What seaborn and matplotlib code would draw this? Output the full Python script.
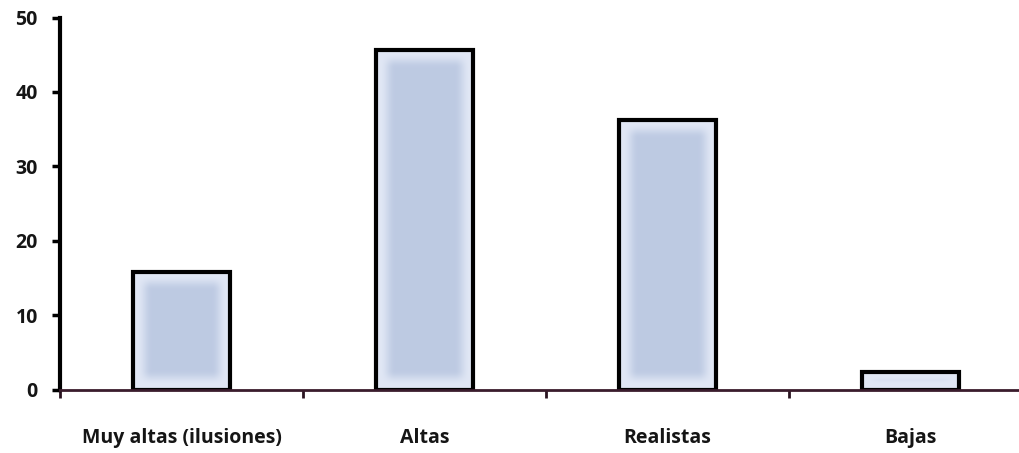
import numpy as np
import matplotlib
matplotlib.use("Agg")
import matplotlib.pyplot as plt
import seaborn as sns
from matplotlib.ticker import FixedLocator

categories = ["Muy altas (ilusiones)", "Altas", "Realistas", "Bajas"]
values = [15.8, 45.6, 36.2, 2.4]
y_ticks = [0, 10, 20, 30, 40, 50]

sns.set_theme(style="white")
plt.rcParams["font.family"] = ["Open Sans", "DejaVu Sans"]

W, H, DPI = 1019, 453, 100
fig = plt.figure(figsize=(W / DPI, H / DPI), dpi=DPI)
ax = fig.add_axes([60 / W, (H - 389.5) / H, 972 / W, 372 / H])

sns.barplot(x=categories, y=values, color="#c0cce4", width=0.4,
            edgecolor="black", linewidth=3, ax=ax, zorder=3)

ax.set_xlim(-0.5, 3.5)
ax.set_ylim(0, 50)
ax.set_yticks(y_ticks)
ax.set_xlabel("")
ax.set_ylabel("")

# soft gradient fill inside each bar: pale rim, deeper blue centre
rim = np.array([0.88, 0.905, 0.96])
core = np.array([0.745, 0.795, 0.89])
fig.canvas.draw()
for patch in ax.patches:
    x0, y0 = patch.get_x(), patch.get_y()
    bw, bh = patch.get_width(), patch.get_height()
    (px0, py0) = ax.transData.transform((x0, y0))
    (px1, py1) = ax.transData.transform((x0 + bw, y0 + bh))
    pw, ph = max(int(abs(px1 - px0)), 2), max(int(abs(py1 - py0)), 2)
    xs = np.arange(pw) + 0.5
    ys = np.arange(ph) + 0.5
    margin = 15.0
    dx = np.minimum(xs, pw - xs)
    dy = np.minimum(ys, ph - ys)
    fx = np.clip((dx - 4) / margin, 0, 1)
    fy = np.clip((dy - 4) / margin, 0, 1)
    fx = fx * fx * (3 - 2 * fx)
    fy = fy * fy * (3 - 2 * fy)
    f = np.outer(fy, fx)[..., None]
    img = rim * (1 - f) + core * f
    im = ax.imshow(img, extent=(x0, x0 + bw, y0, y0 + bh), origin="lower",
                   aspect="auto", interpolation="bilinear", zorder=2.9)
    im.set_clip_path(patch)
    patch.set_facecolor("none")

for s in ("top", "right"):
    ax.spines[s].set_visible(False)
ax.spines["left"].set_linewidth(3)
ax.spines["left"].set_color("black")
ax.spines["bottom"].set_linewidth(2)
ax.spines["bottom"].set_color("#3a1c2c")
ax.spines["bottom"].set_zorder(4)

ax.tick_params(axis="y", direction="out", length=6, width=2.5, color="black",
               pad=10, labelsize=14, labelcolor="#151515", left=True)
ax.xaxis.set_minor_locator(FixedLocator([-0.5, 0.5, 1.5, 2.5, 3.5]))
ax.tick_params(axis="x", which="minor", direction="out", length=6, width=2,
               color="#2a1420", bottom=True)
ax.tick_params(axis="x", which="major", length=0, pad=28, labelsize=14,
               labelcolor="#151515")
for lab in ax.get_xticklabels() + ax.get_yticklabels():
    lab.set_fontweight("bold")

ax.set_ylim(0, 50)
fig.savefig("out.png", dpi=DPI)
